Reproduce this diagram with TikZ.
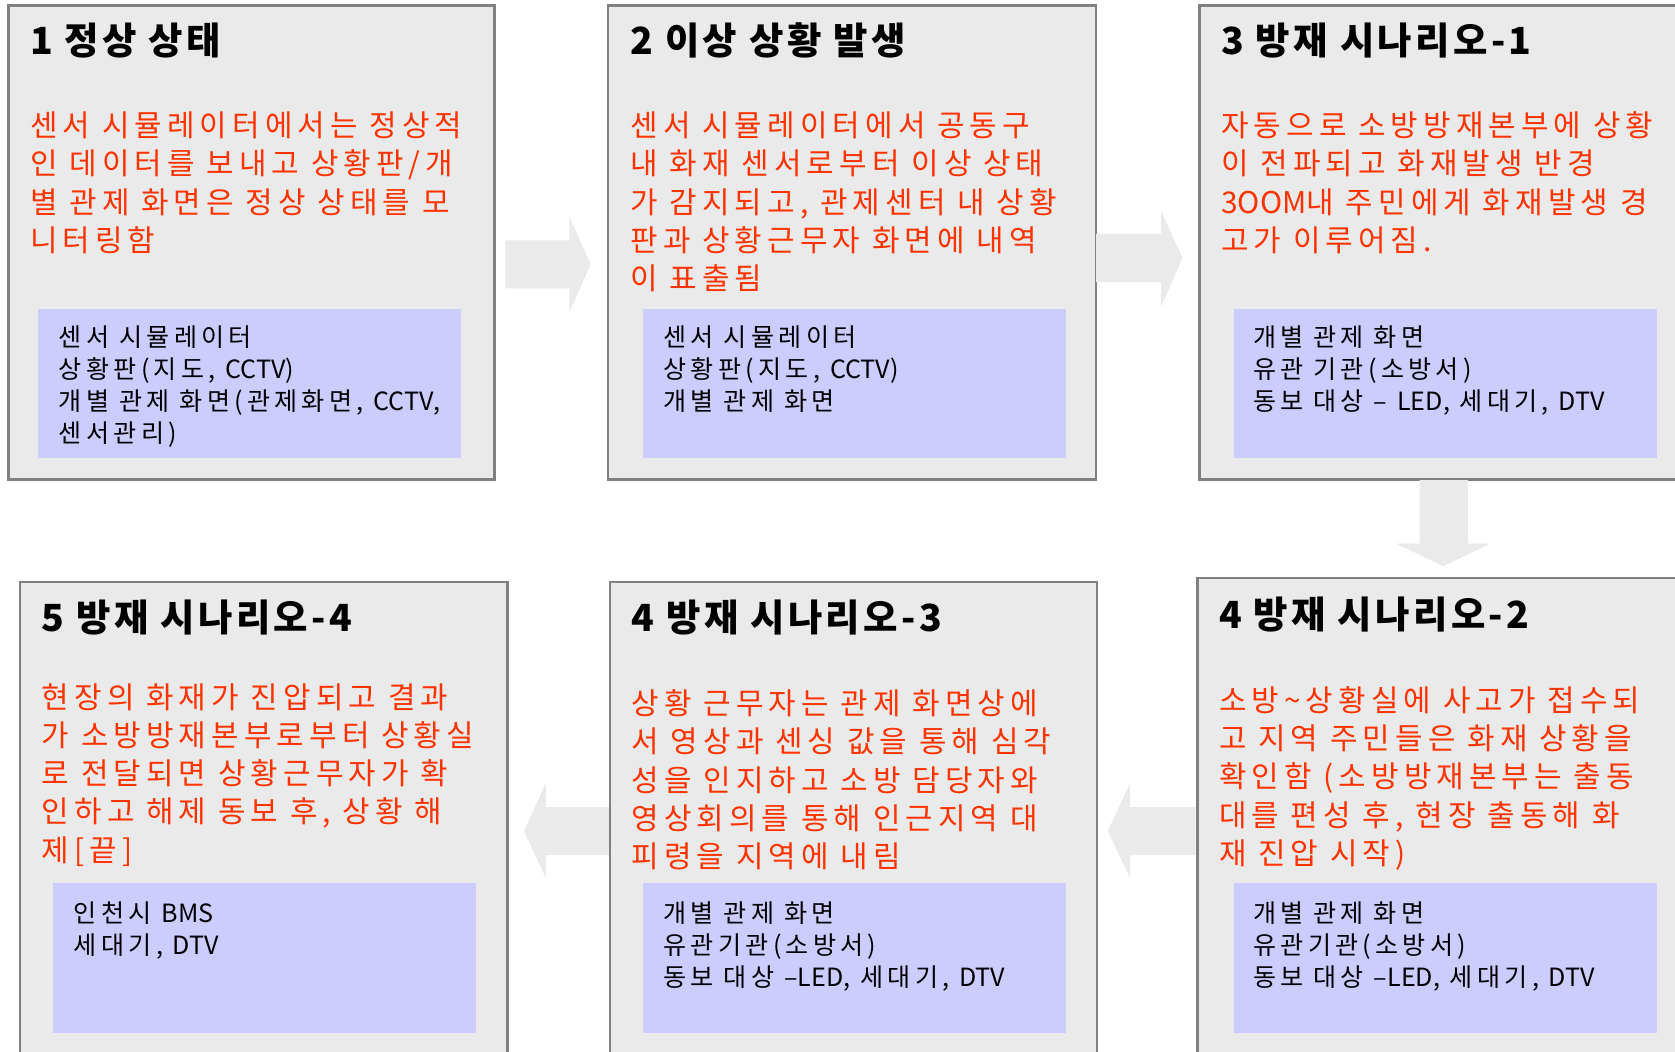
\documentclass[tikz,border=0pt]{standalone}
\usepackage{fontspec}
\setmainfont{Noto Sans CJK KR}
\newfontfamily\redfont{Noto Sans CJK KR}[LetterSpace=17]
\newfontfamily\blkfont{Noto Sans CJK KR}[LetterSpace=17]
\newfontfamily\ttlfont{Noto Sans CJK KR}[LetterSpace=9]
\newfontfamily\plainlat{Noto Sans CJK KR}
\newcommand\lat[1]{{\plainlat #1}}
\definecolor{panelfill}{HTML}{EAEAEA}
\definecolor{panelline}{HTML}{808080}
\definecolor{innerfill}{HTML}{CCCCFF}
\definecolor{redtxt}{HTML}{FF3300}
\definecolor{arrowfill}{HTML}{EAEAEA}
\begin{document}
\begin{tikzpicture}[x=1pt,y=-1pt,
  panel/.style={draw=panelline,line width=2.3pt,fill=panelfill},
  innerbox/.style={fill=innerfill},
  ttl/.style={anchor=base west,inner sep=0pt,font=\ttlfont\bfseries\fontsize{35}{40}\selectfont},
  redt/.style={anchor=base west,inner sep=0pt,align=left,text=redtxt,font=\redfont\fontsize{28}{35.8}\selectfont},
  blkt/.style={anchor=base west,inner sep=0pt,align=left,font=\blkfont\fontsize{23.5}{29.8}\selectfont},
  blockarrow/.style={fill=arrowfill}]
\useasboundingbox (0,0) rectangle (1568,984);
\fill[white] (0,0) rectangle (1568,984);
% panels
\draw[panel] (8,5) rectangle (463,449);
\draw[panel] (569,5) rectangle (1026,449);
\draw[panel] (1123,5) rectangle (1600,449);
\draw[panel] (18.5,545) rectangle (475,1010);
\draw[panel] (571,545) rectangle (1027,1010);
\draw[panel] (1121,541) rectangle (1600,1010);
% inner boxes
\fill[innerbox] (36,289) rectangle (432,429);
\fill[innerbox] (602,289) rectangle (998,429);
\fill[innerbox] (1155,289) rectangle (1551,429);
\fill[innerbox] (50,827) rectangle (446,967);
\fill[innerbox] (602,827) rectangle (998,967);
\fill[innerbox] (1155,827) rectangle (1551,967);
% arrows
\fill[blockarrow] (473,225) -- (533,225) -- (533,203) -- (553,247.5) -- (533,292) -- (533,270) -- (473,270) -- cycle;
\fill[blockarrow] (1026,219) -- (1087,219) -- (1087,198) -- (1107,241.5) -- (1087,287) -- (1087,264) -- (1026,264) -- cycle;
\fill[blockarrow] (1329,449.5) -- (1374,449.5) -- (1374,509) -- (1395,509) -- (1351,530) -- (1307,509) -- (1329,509) -- cycle;
\fill[blockarrow] (1119,755.6) -- (1058,755.6) -- (1058,733) -- (1037,778) -- (1058,822) -- (1058,800.6) -- (1119,800.6) -- cycle;
\fill[blockarrow] (570,755.6) -- (511,755.6) -- (511,733) -- (490.6,778) -- (511,822) -- (511,800.6) -- (570,800.6) -- cycle;
% panel 1
\node[ttl] (t1) at (28,51) {1 정상 상태};
\node[redt] (r1) at (28,235.4) {센서 시뮬레이터에서는 정상적\\인 데이터를 보내고 상황판/개\\별 관제 화면은 정상 상태를 모\\니터링함};
\node[blkt] (k1) at (55,413.9) {센서 시뮬레이터\\상황판(지도, \lat{CCTV})\\개별 관제 화면(관제화면, \lat{CCTV},\\센서관리)};
% panel 2
\node[ttl] (t2) at (590,51) {2 이상 상황 발생};
\node[redt] (r2) at (590,271.2) {센서 시뮬레이터에서 공동구\\내 화재 센서로부터 이상 상태\\가 감지되고, 관제센터 내 상황\\판과 상황근무자 화면에 내역\\이 표출됨};
\node[blkt] (k2) at (621,384.1) {센서 시뮬레이터\\상황판(지도, \lat{CCTV})\\개별 관제 화면};
% panel 3
\node[ttl] (t3) at (1143,51) {3 방재 시나리오-1};
\node[redt] (r3) at (1143,235.4) {자동으로 소방방재본부에 상황\\이 전파되고 화재발생 반경\\\lat{3OOM}내 주민에게 화재발생 경\\고가 이루어짐.};
\node[blkt] (k3) at (1173,384.1) {개별 관제 화면\\유관 기관(소방서)\\동보 대상 – \lat{LED}, 세대기, \lat{DTV}};
% panel 4-2
\node[ttl] (t4) at (1141,588) {4 방재 시나리오-2};
\node[redt] (r4) at (1141,809.2) {소방\textasciitilde 상황실에 사고가 접수되\\고 지역 주민들은 화재 상황을\\확인함 (소방방재본부는 출동\\대를 편성 후, 현장 출동해 화\\재 진압 시작)};
\node[blkt] (k4) at (1173,923.1) {개별 관제 화면\\유관기관(소방서)\\동보 대상 –\lat{LED}, 세대기, \lat{DTV}};
% panel 4-3
\node[ttl] (t5) at (591,591) {4 방재 시나리오-3};
\node[redt] (r5) at (591,812.2) {상황 근무자는 관제 화면상에\\서 영상과 센싱 값을 통해 심각\\성을 인지하고 소방 담당자와\\영상회의를 통해 인근지역 대\\피령을 지역에 내림};
\node[blkt] (k5) at (621,923.1) {개별 관제 화면\\유관기관(소방서)\\동보 대상 –\lat{LED}, 세대기, \lat{DTV}};
% panel 5
\node[ttl] (t6) at (39,591) {5 방재 시나리오-4};
\node[redt] (r6) at (39,806.2) {현장의 화재가 진압되고 결과\\가 소방방재본부로부터 상황실\\로 전달되면 상황근무자가 확\\인하고 해제 동보 후, 상황 해\\제[끝]};
\node[blkt] (k6) at (69,893.3) {인천시 \lat{BMS}\\세대기, \lat{DTV}};
\end{tikzpicture}
\end{document}
